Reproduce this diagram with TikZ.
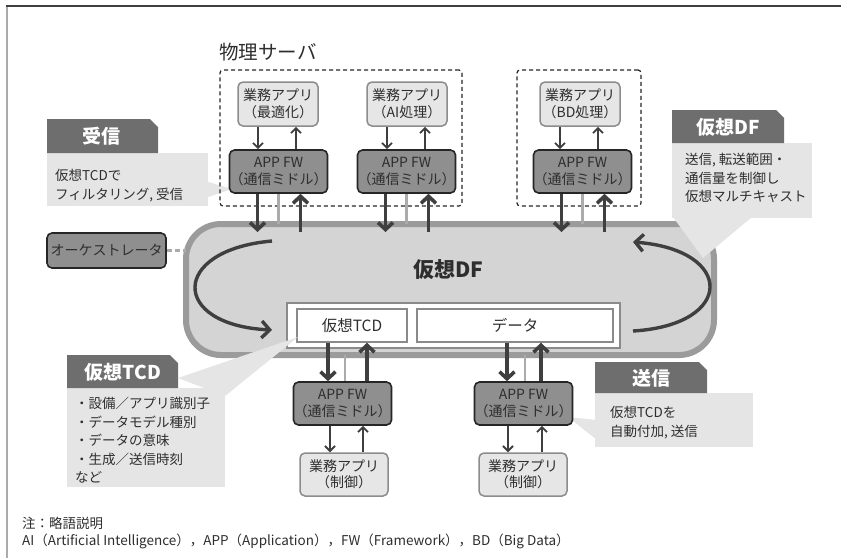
\documentclass[tikz,border=0pt]{standalone}
\usepackage{fontspec}
\setmainfont{Noto Sans CJK JP}
\usetikzlibrary{arrows.meta,calc}
\definecolor{txt}{HTML}{2E2E2E}
\definecolor{appf}{HTML}{E6E6E6}
\definecolor{appb}{HTML}{8C8C8C}
\definecolor{fwf}{HTML}{8F8F8F}
\definecolor{fwb}{HTML}{262626}
\definecolor{dff}{HTML}{D4D4D4}
\definecolor{dfb}{HTML}{9B9B9B}
\definecolor{hdr}{HTML}{6E6E6E}
\definecolor{cbody}{HTML}{E5E5E5}
\definecolor{arr}{HTML}{3F3F3F}
\definecolor{gline}{HTML}{ABABAB}
\definecolor{conb}{HTML}{8A8A8A}
\begin{document}
\begin{tikzpicture}[x=1pt,y=-1pt,
  app/.style={draw=appb, fill=appf, line width=1.5pt, rounded corners=5pt,
    minimum width=80pt, minimum height=44pt, align=center, inner sep=0pt,
    text=txt, font=\fontsize{14}{16.5}\selectfont},
  fw/.style={draw=fwb, fill=fwf, line width=1.6pt, rounded corners=5pt,
    minimum width=97pt, minimum height=43pt, align=center, inner sep=0pt,
    text=txt, font=\fontsize{14}{16.5}\selectfont},
  srv/.style={draw=black!85, dashed, line width=1.2pt, rounded corners=3pt,
    dash pattern=on 4pt off 3pt, inner sep=0pt},
  thinarr/.style={draw=arr, line width=1.8pt, -{Straight Barb[length=5pt,width=10pt]}},
  thickarr/.style={draw=arr, line width=3.6pt, -{Straight Barb[length=7pt,width=15pt]}},
  gcon/.style={draw=gline, line width=2.2pt},
  curvearr/.style={draw=arr, line width=3.4pt, -{Straight Barb[length=8pt,width=17pt]}},
  hdrtxt/.style={text=white, font=\fontsize{19}{21}\selectfont\bfseries, inner sep=0pt},
  bodytxt/.style={text=txt, font=\fontsize{13.5}{18.5}\selectfont, align=left,
    anchor=north west, inner sep=0pt},
  boxtxt/.style={draw=conb, fill=white, line width=1.5pt, inner sep=0pt,
    text=txt, font=\fontsize{15.5}{17}\selectfont},
  foot/.style={anchor=west, text=txt, font=\fontsize{13.5}{15}\selectfont, inner sep=0pt}
]
\useasboundingbox (0,0) rectangle (841,558);
% frame
\draw[draw=gline, line width=2pt] (7,6) -- (7,558);
\draw[draw=black!75, line width=1.6pt] (6,6) -- (841,6);

% virtual DF
\node[draw=dfb, fill=dff, line width=6pt, rounded corners=35pt, outer sep=0pt,
  minimum width=528pt, minimum height=131pt] (df) at (450,289.5) {};
\node[text=txt, font=\fontsize{21}{23}\selectfont\bfseries] (dft) at (448,270) {仮想DF};
\node[draw=conb, fill=white, line width=1.5pt, minimum width=333pt, minimum height=45pt,
  inner sep=0pt] (con) at (453.5,325.5) {};
\node[boxtxt, minimum width=110pt, minimum height=33pt] (tcd) at (352,325.5) {仮想TCD};
\node[boxtxt, minimum width=196pt, minimum height=33pt] (data) at (515,325.5) {データ};

% curved arrows
\coordinate (cl1) at (272,241);
\coordinate (cl2) at (272,330);
\coordinate (cr1) at (633,331);
\coordinate (cr2) at (633,242);
\draw[curvearr] (cl1) .. controls (170,250) and (170,325) .. (cl2);
\draw[curvearr] (cr1) .. controls (735,325) and (735,250) .. (cr2);

% callouts
% 受信
\fill[cbody] (205,181) -- (232,189) -- (205,198) -- cycle;
\fill[cbody] (47,153) rectangle (208,206);
\fill[hdr] (47,119) -- (150,119) -- (158,127) -- (158,153) -- (47,153) -- cycle;
\node[hdrtxt] (rxh) at (101,136) {受信};
\node[bodytxt] (rxb) at (55,169) {仮想TCDで\\フィルタリング, 受信};
% 仮想DF
\fill[cbody] (673,217) -- (752,217) -- (703,258) -- cycle;
\fill[cbody] (672,143) rectangle (812,218);
\fill[hdr] (672,110) -- (776,110) -- (784,118) -- (784,143) -- (672,143) -- cycle;
\node[hdrtxt] (dfh) at (728,127) {仮想DF};
\node[bodytxt] (dfb) at (685,153) {送信, 転送範囲・\\通信量を制御し\\仮想マルチキャスト};
% 仮想TCD
\fill[cbody] (178,378) -- (298,337) -- (225,396) -- cycle;
\fill[cbody] (67,388) rectangle (225,487);
\fill[hdr] (67,355) -- (170,355) -- (178,363) -- (178,388) -- (67,388) -- cycle;
\node[hdrtxt] (tcdh) at (123,372) {仮想TCD};
\node[bodytxt] (tcdb) at (75,397) {・設備／アプリ識別子\\・データモデル種別\\・データの意味\\・生成／送信時刻\\など};
% 送信
\fill[cbody] (597,420) -- (568,417) -- (597,440) -- cycle;
\fill[cbody] (595,393) rectangle (753,447);
\fill[hdr] (595,362) -- (699,362) -- (707,370) -- (707,393) -- (595,393) -- cycle;
\node[hdrtxt] (txh) at (651,378) {送信};
\node[bodytxt] (txb) at (610,406) {仮想TCDを\\自動付加, 送信};

% physical servers
\node[anchor=west, text=txt, font=\fontsize{19.5}{21}\selectfont, inner sep=0pt] (srvl) at (219,52) {物理サーバ};
\node[srv, minimum width=242pt, minimum height=136pt] (srv1) at (341,138) {};
\node[srv, minimum width=124pt, minimum height=136pt] (srv2) at (579,138) {};

% apps and frameworks
\node[app] (a1) at (278,104) {業務アプリ\\（最適化）};
\node[fw] (f1) at (278.5,171.5) {APP FW\\（通信ミドル）};
\node[app] (a2) at (407,104) {業務アプリ\\（AI処理）};
\node[fw] (f2) at (406.5,171.5) {APP FW\\（通信ミドル）};
\node[app] (a3) at (580,104) {業務アプリ\\（BD処理）};
\node[fw] (f3) at (582.5,171.5) {APP FW\\（通信ミドル）};
\node[fw] (f4) at (342.5,403.5) {APP FW\\（通信ミドル）};
\node[app, minimum width=88pt, minimum height=43pt] (a4) at (344,474.5) {業務アプリ\\（制御）};
\node[fw] (f5) at (523.5,403.5) {APP FW\\（通信ミドル）};
\node[app, minimum width=88pt, minimum height=43pt] (a5) at (523,474.5) {業務アプリ\\（制御）};

% thin arrows (top)
\foreach \a/\f in {a1/f1,a2/f2,a3/f3}{
  \draw[thinarr] ([xshift=-20pt]\a.south) -- ([xshift=-20pt]\a.south |- \f.north);
  \draw[thinarr] ([xshift=18pt]\a.south |- \f.north) -- ([xshift=18pt]\a.south);
}
% thick arrows (top)
\foreach \f in {f1,f2,f3}{
  \draw[gcon] (\f.south) -- (\f.south |- df.north);
  \draw[thickarr, shorten >=-8pt] ([xshift=-21pt]\f.south) -- ([xshift=-21pt]\f.south |- df.north);
  \draw[thickarr, shorten <=-8pt] ([xshift=22pt]\f.south |- df.north) -- ([xshift=22pt]\f.south);
}
% bottom
\draw[gcon] ([xshift=2.5pt]f4.north) -- ([xshift=2.5pt]f4.north |- df.south);
\draw[thickarr] ([xshift=-14.5pt]f4.north |- tcd.south) -- ([xshift=-14.5pt]f4.north);
\draw[thickarr] ([xshift=24.5pt]f4.north) -- ([xshift=24.5pt]f4.north |- tcd.south);
\draw[thinarr] ([xshift=-12.5pt]f4.south) -- ([xshift=-12.5pt]f4.south |- a4.north);
\draw[thinarr] ([xshift=20.5pt]f4.south |- a4.north) -- ([xshift=20.5pt]f4.south);

\draw[gcon] ([xshift=1.5pt]f5.north) -- ([xshift=1.5pt]f5.north |- df.south);
\draw[thickarr] ([xshift=-16.5pt]f5.north |- data.south) -- ([xshift=-16.5pt]f5.north);
\draw[thickarr] ([xshift=17.5pt]f5.north) -- ([xshift=17.5pt]f5.north |- data.south);
\draw[thinarr] ([xshift=-15.5pt]f5.south) -- ([xshift=-15.5pt]f5.south |- a5.north);
\draw[thinarr] ([xshift=18.5pt]f5.south |- a5.north) -- ([xshift=18.5pt]f5.south);

% orchestrator
\node[fw, minimum width=119pt, minimum height=35pt] (orch) at (106.5,250.5) {オーケストレータ};
\draw[draw=gline, line width=2.5pt, dash pattern=on 5pt off 3pt] (orch.east) -- (df.west |- orch.east);

% footer
\node[foot] (n1) at (22,523) {注：略語説明};
\node[foot] (n2) at (22,541) {AI（Artificial Intelligence），APP（Application），FW（Framework），BD（Big Data）};
\end{tikzpicture}
\end{document}
